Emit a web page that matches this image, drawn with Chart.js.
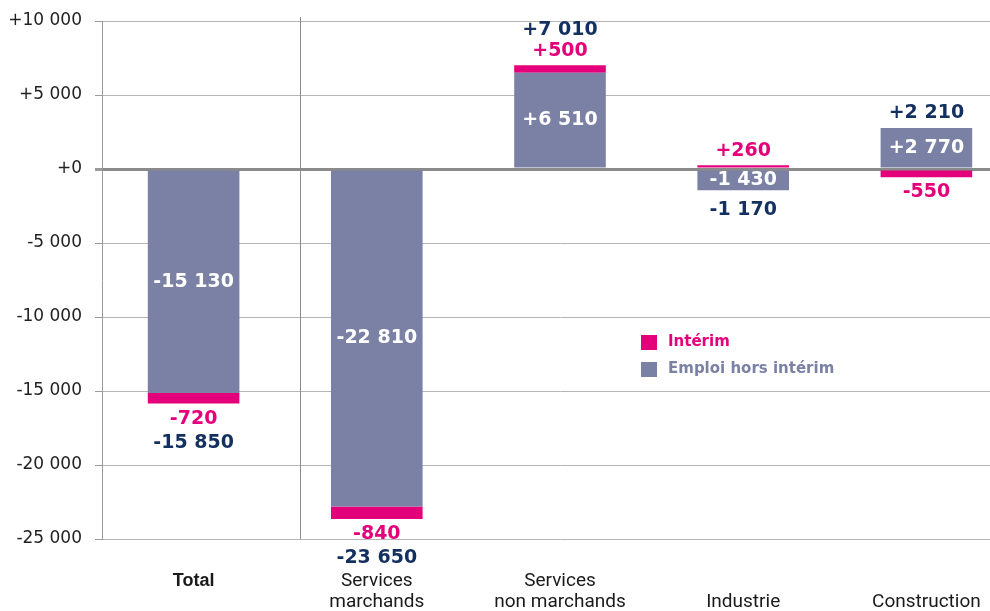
<!DOCTYPE html>
<html>
<head>
<meta charset="utf-8">
<script src="https://cdn.jsdelivr.net/npm/chart.js@4.4.1/dist/chart.umd.min.js"></script>
<style>
  html, body { margin: 0; padding: 0; overflow: hidden; background: #fff; }
  #wrap { position: relative; width: 1018px; height: 611px; }
</style>
</head>
<body>
<div id="wrap"><canvas id="c"></canvas></div>
<script>
// ---- Data ----
const categories = ['Total', 'Services marchands', 'Services non marchands', 'Industrie', 'Construction'];
const categoryLabelLines = [['Total'], ['Services', 'marchands'], ['Services', 'non marchands'], ['', 'Industrie'], ['', 'Construction']];
const emploiHorsInterim = [-15130, -22810, 6510, -1430, 2770];
const interim = [-720, -840, 500, 260, -550];
const totals = [-15850, -23650, 7010, -1170, 2210];
const yTickValues = [-25000, -20000, -15000, -10000, -5000, 0, 5000, 10000];
const seriesNames = ['Emploi hors intérim', 'Intérim'];

// ---- Styles ----
const GRAY = '#7a81a5';
const MAGENTA = '#e4007b';
const NAVY = '#14305f';

function fmt(n) {
  const sign = n < 0 ? '-' : '+';
  const s = Math.abs(n).toString().replace(/\B(?=(\d{3})+(?!\d))/g, ' ');
  return sign + s;
}

const labelPlugin = {
  id: 'labels',
  afterDatasetsDraw(chart) {
    const ctx = chart.ctx;
    const m0 = chart.getDatasetMeta(0);
    const m1 = chart.getDatasetMeta(1);
    ctx.save();
    ctx.textAlign = 'center';
    ctx.textBaseline = 'middle';
    ctx.font = 'bold 19px "DejaVu Sans", Verdana, sans-serif';
    for (let i = 0; i < categories.length; i++) {
      const g = m0.data[i];
      const b = m1.data[i];
      ctx.fillStyle = '#ffffff';
      ctx.fillText(fmt(emploiHorsInterim[i]), g.x, (g.y + g.base) / 2);
      let iy;
      if (interim[i] < 0) iy = b.y + 15; else iy = b.y - 14;
      ctx.fillStyle = MAGENTA;
      ctx.fillText(fmt(interim[i]), b.x, iy);
      let ty;
      if (totals[i] < 0) {
        if (interim[i] < 0) ty = iy + 24;
        else ty = Math.max(g.y, g.base) + 20;
      } else {
        if (interim[i] > 0) ty = iy - 21;
        else ty = Math.min(g.y, g.base) - 15;
      }
      ctx.fillStyle = NAVY;
      ctx.fillText(fmt(totals[i]), g.x, ty);
    }
    ctx.restore();
  },
  beforeDatasetsDraw(chart) {
    const ctx = chart.ctx;
    const xs = chart.scales.x;
    const a = chart.chartArea;
    const x0 = xs.getPixelForValue(0), x1 = xs.getPixelForValue(1);
    const sx = Math.round(x0 + 0.58 * (x1 - x0)) + 0.5;
    ctx.save();
    ctx.strokeStyle = '#8c8c8c';
    ctx.lineWidth = 1;
    ctx.beginPath();
    ctx.moveTo(sx, a.top - 4);
    ctx.lineTo(sx, a.bottom);
    ctx.stroke();
    ctx.restore();
  },
  afterDraw(chart) {
    const ctx = chart.ctx;
    ctx.save();
    ctx.font = 'bold 15px "DejaVu Sans", Verdana, sans-serif';
    ctx.textBaseline = 'middle';
    ctx.textAlign = 'left';
    const items = [[seriesNames[1], MAGENTA], [seriesNames[0], GRAY]];
    items.forEach((it, k) => {
      const y = 342 + k * 27;
      ctx.fillStyle = it[1];
      ctx.fillRect(641, y - 7, 16, 15);
      ctx.fillText(it[0], 668, y);
    });
    ctx.restore();
  }
};

new Chart(document.getElementById('c'), {
  type: 'bar',
  data: {
    labels: categoryLabelLines,
    datasets: [
      { label: seriesNames[0], data: emploiHorsInterim, backgroundColor: GRAY, stack: 's' },
      { label: seriesNames[1], data: interim, backgroundColor: MAGENTA, stack: 's' }
    ]
  },
  options: {
    responsive: true,
    maintainAspectRatio: false,
    animation: false,
    layout: { padding: { top: 21, right: 0, bottom: 0, left: 0 } },
    plugins: { legend: { display: false }, tooltip: { enabled: false } },
    datasets: { bar: { barPercentage: 0.5, categoryPercentage: 1 } },
    scales: {
      x: {
        stacked: true,
        offset: true,
        grid: { display: false },
        border: { display: false },
        afterFit: s => { s.height = 72; },
        ticks: {
          padding: 24,
          maxRotation: 0,
          autoSkip: false,
          color: '#1a1a1a',
          font: (c) => c.index === 0
            ? { family: '"Liberation Sans", Arial, sans-serif', size: 18, weight: 'bold', lineHeight: 1.1667 }
            : { family: 'Roboto, "Liberation Sans Narrow", sans-serif', size: 19, weight: 'normal', lineHeight: 1.105 }
        }
      },
      y: {
        stacked: true,
        min: -25000,
        max: 10000,
        afterFit: s => { s.width = 102; s.paddingTop = 10; s.paddingBottom = 10; },
        afterBuildTicks: s => { s.ticks = yTickValues.map(v => ({ value: v })); },
        border: { display: true, color: '#9a9a9a', width: 1 },
        grid: {
          color: (c) => (c.tick && c.tick.value === 0) ? '#8a8a8a' : '#b5b5b5',
          lineWidth: (c) => (c.tick && c.tick.value === 0) ? 3 : 1,
          tickLength: 7,
          tickColor: '#9a9a9a',
          drawTicks: true
        },
        ticks: {
          padding: 13,
          color: '#222222',
          font: { family: '"DejaVu Sans", Verdana, sans-serif', size: 17 },
          callback: v => fmt(v)
        }
      }
    }
  },
  plugins: [labelPlugin]
});
</script>
</body>
</html>
